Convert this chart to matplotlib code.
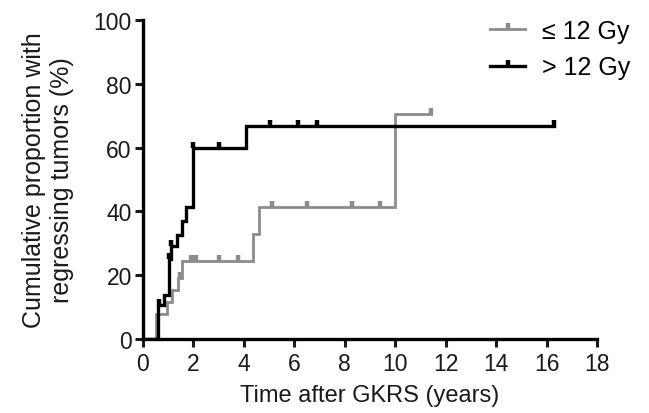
import numpy as np
import matplotlib
matplotlib.use("Agg")
import matplotlib.pyplot as plt
from matplotlib.lines import Line2D

plt.rcParams['font.family'] = ['Liberation Sans', 'DejaVu Sans']

# <= 12 Gy group: step times (years) and cumulative proportion (%) after each step
low_times = [0.0, 0.5, 0.95, 1.15, 1.4, 1.55, 4.35, 4.6, 10.0]
low_values = [0.0, 7.7, 11.5, 15.4, 19.2, 24.5, 33.0, 41.3, 70.6]
low_censor = [1.45, 1.9, 2.0, 2.1, 3.0, 3.75, 5.1, 6.5, 8.3, 9.4, 11.4]
low_end = 11.4

# > 12 Gy group
high_times = [0.0, 0.6, 0.85, 1.02, 1.1, 1.36, 1.55, 1.7, 2.0, 4.1]
high_values = [0.0, 10.7, 13.8, 25.0, 29.0, 32.5, 37.0, 41.5, 60.0, 66.7]
high_censor = [0.62, 1.05, 1.12, 2.0, 3.0, 5.05, 6.15, 6.9, 16.3]
high_end = 16.3

labels = ['\u2264 12 Gy', '> 12 Gy']
colors = ['#8c8c8c', '#000000']
widths = [2.0, 2.4]


def level_at(times, values, t):
    idx = np.searchsorted(times, t, side='right') - 1
    return np.asarray(values)[idx]


fig = plt.figure(figsize=(6.49, 4.14), dpi=100)
ax = fig.add_axes([0.2203, 0.1787, 0.6996, 0.7706])

groups = [(low_times, low_values, low_censor, low_end),
          (high_times, high_values, high_censor, high_end)]
for (times, values, censor, end), col, lw in zip(groups, colors, widths):
    xs = list(times) + [end]
    ys = list(values) + [values[-1]]
    ax.step(xs, ys, where='post', color=col, lw=lw, solid_joinstyle='miter')
    cy = level_at(times, values, censor)
    ax.plot(censor, cy, ls='none', marker=2, color=col, ms=4.5, mew=3.2)

# legend handles: line with a censor tick
handles = [Line2D([], [], color=c, lw=w, marker=2, ms=4.5, mew=3.2)
           for c, w in zip(colors, widths)]
fig.legend(handles, labels, loc='upper left', bbox_to_anchor=(490 / 649, 1 - 20 / 414),
           frameon=False, fontsize=18, handlelength=1.4, handletextpad=0.7,
           labelspacing=0.5, borderpad=0, borderaxespad=0)

ax.set_xlim(0, 18)
ax.set_ylim(0, 100)
ax.set_xticks(np.arange(0, 19, 2))
ax.set_yticks(np.arange(0, 101, 20))

for s in ['top', 'right']:
    ax.spines[s].set_visible(False)
for s in ['left', 'bottom']:
    ax.spines[s].set_linewidth(2.4)
ax.tick_params(width=2.2, length=6, labelsize=16.5, pad=2, colors='#1a1a1a')
ax.tick_params(axis='x', pad=3)

ax.set_xlabel('Time after GKRS (years)', fontsize=17, labelpad=7, color='#1a1a1a')
ax.set_ylabel('Cumulative proportion with\nregressing tumors (%)', fontsize=18,
              labelpad=14, color='#1a1a1a', linespacing=1.2)

fig.savefig('out.png', dpi=100)
